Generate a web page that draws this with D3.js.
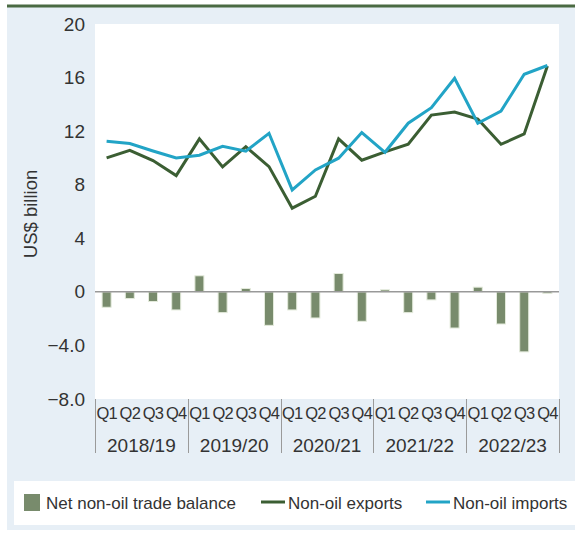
<!DOCTYPE html>
<html>
<head>
<meta charset="utf-8">
<style>
  body { margin: 0; background: #fff; }
  svg { font-family: 'Liberation Sans', Arial, sans-serif; }
  .y-axis text { font-size: 19px; fill: #333; }
  .q-axis text { font-size: 16.5px; fill: #333; letter-spacing: -0.8px; }
  .year { font-size: 19px; fill: #333; text-anchor: middle; }
  .sep { stroke: #9a9a9a; stroke-width: 1px; }
  .bar { fill: #788b6c; stroke: #e3eadb; stroke-width: 1px; }
  .zero { stroke: #999; stroke-width: 1.5px; }
  .line { fill: none; stroke-width: 3px; stroke-linejoin: miter; }
  .legend text { font-size: 17px; fill: #333; }
</style>
</head>
<body>
<script src="https://d3js.org/d3.v7.min.js"></script>
<script>
// data
var years = ["2018/19", "2019/20", "2020/21", "2021/22", "2022/23"]
var quarters = ["Q1", "Q2", "Q3", "Q4"]
var balance = [-1.15, -0.5, -0.72, -1.35, 1.2, -1.55, 0.25, -2.5, -1.35, -1.95,
               1.37, -2.2, 0.15, -1.55, -0.6, -2.7, 0.35, -2.4, -4.48, -0.12]
var exportsNonOil = [10.0, 10.57, 9.8, 8.68, 11.42, 9.33, 10.84, 9.35, 6.25, 7.14,
                     11.42, 9.83, 10.45, 11.02, 13.2, 13.43, 12.9, 11.02, 11.79, 16.87]
var importsNonOil = [11.24, 11.07, 10.52, 10.0, 10.2, 10.87, 10.5, 11.84, 7.61, 9.1,
                     9.98, 11.89, 10.42, 12.59, 13.75, 15.95, 12.59, 13.5, 16.25, 16.9]
var yTicks = [20, 16, 12, 8, 4, 0, -4, -8]
var yTickLabels = ["20", "16", "12", "8", "4", "0", "\u22124.0", "\u22128.0"]
var legendLabels = ["Net non-oil trade balance", "Non-oil exports", "Non-oil imports"]

var width = 575
var height = 533
var colBar = "#788b6c"
var colExp = "#3b5e33"
var colImp = "#22a4c6"

// category keys like "2018/19 Q1"
var keys = []
years.forEach(function(y) {
  quarters.forEach(function(q) { keys.push(y + " " + q) })
})

var svg = d3.select("body").append("svg")
  .attr("width", width)
  .attr("height", height)

// panel background
svg.append("rect")
  .attr("x", 7).attr("y", 6)
  .attr("width", width - 7).attr("height", height - 9)
  .attr("fill", "#e7eff6")

svg.append("line")
  .attr("x1", 7).attr("x2", width)
  .attr("y1", 6).attr("y2", 6)
  .attr("stroke", "#4a6a42").attr("stroke-width", 3)

var x = d3.scaleBand().domain(keys).range([95, 559])
var y = d3.scaleLinear().domain([-8, 20]).range([399, 24])

// plot area
svg.append("rect")
  .attr("x", 95).attr("y", 24)
  .attr("width", 559 - 95).attr("height", 399 - 24)
  .attr("fill", "#fff")

// y axis
var yAxis = svg.append("g")
  .attr("class", "y-axis")
  .attr("transform", "translate(95,0)")
  .call(d3.axisLeft(y).tickValues(yTicks).tickSize(0).tickPadding(10)
    .tickFormat(function(d, i) { return yTickLabels[i] }))
yAxis.select(".domain").remove()
yAxis.selectAll("text").attr("font-family", null).attr("font-size", null)

svg.append("text")
  .attr("transform", "translate(37,214) rotate(-90)")
  .attr("text-anchor", "middle")
  .attr("font-size", 18.5)
  .attr("fill", "#333")
  .text("US$ billion")

// bars
var barW = 9
svg.selectAll(".bar")
  .data(balance)
  .enter().append("rect")
  .attr("class", "bar")
  .attr("x", function(d, i) { return x(keys[i]) + x.bandwidth() / 2 - barW / 2 })
  .attr("y", function(d) { return y(Math.max(0, d)) })
  .attr("width", barW)
  .attr("height", function(d) { return Math.abs(y(d) - y(0)) })

svg.append("line")
  .attr("class", "zero")
  .attr("x1", 95).attr("x2", 559)
  .attr("y1", y(0)).attr("y2", y(0))

// lines
var line = d3.line()
  .x(function(d, i) { return x(keys[i]) + x.bandwidth() / 2 })
  .y(function(d) { return y(d) })

svg.append("path")
  .datum(exportsNonOil)
  .attr("class", "line")
  .attr("stroke", colExp)
  .attr("d", line)

svg.append("path")
  .datum(importsNonOil)
  .attr("class", "line")
  .attr("stroke", colImp)
  .attr("d", line)

// category axis: quarters
var qAxis = svg.append("g")
  .attr("class", "q-axis")
  .attr("transform", "translate(0,399)")
  .call(d3.axisBottom(x).tickSize(0).tickPadding(8)
    .tickFormat(function(d) { return d.split(" ")[1] }))
qAxis.select(".domain").remove()
qAxis.selectAll("text").attr("font-family", null).attr("font-size", null)

// year labels and separators
var groupW = x.bandwidth() * quarters.length
svg.selectAll(".year")
  .data(years)
  .enter().append("text")
  .attr("class", "year")
  .attr("x", function(d) { return x(d + " Q1") + groupW / 2 })
  .attr("y", 452)
  .text(function(d) { return d })

var seps = years.map(function(d) { return x(d + " Q1") }).concat([x.range()[1]])
svg.selectAll(".sep")
  .data(seps)
  .enter().append("line")
  .attr("class", "sep")
  .attr("x1", function(d) { return Math.round(d) + 0.5 })
  .attr("x2", function(d) { return Math.round(d) + 0.5 })
  .attr("y1", 399).attr("y2", 453)

// legend
svg.append("rect")
  .attr("x", 14).attr("y", 481)
  .attr("width", width - 14).attr("height", 44)
  .attr("fill", "#fff")

var legend = svg.append("g").attr("class", "legend")
legend.append("rect")
  .attr("x", 24).attr("y", 494)
  .attr("width", 16).attr("height", 17)
  .attr("fill", colBar)
legend.append("text").attr("x", 46).attr("y", 509).text(legendLabels[0])

legend.append("line")
  .attr("x1", 261).attr("x2", 285).attr("y1", 502).attr("y2", 502)
  .attr("stroke", colExp).attr("stroke-width", 3)
legend.append("text").attr("x", 288).attr("y", 509).text(legendLabels[1])

legend.append("line")
  .attr("x1", 426).attr("x2", 450).attr("y1", 502).attr("y2", 502)
  .attr("stroke", colImp).attr("stroke-width", 3)
legend.append("text").attr("x", 453).attr("y", 509).text(legendLabels[2])
</script>
</body>
</html>
